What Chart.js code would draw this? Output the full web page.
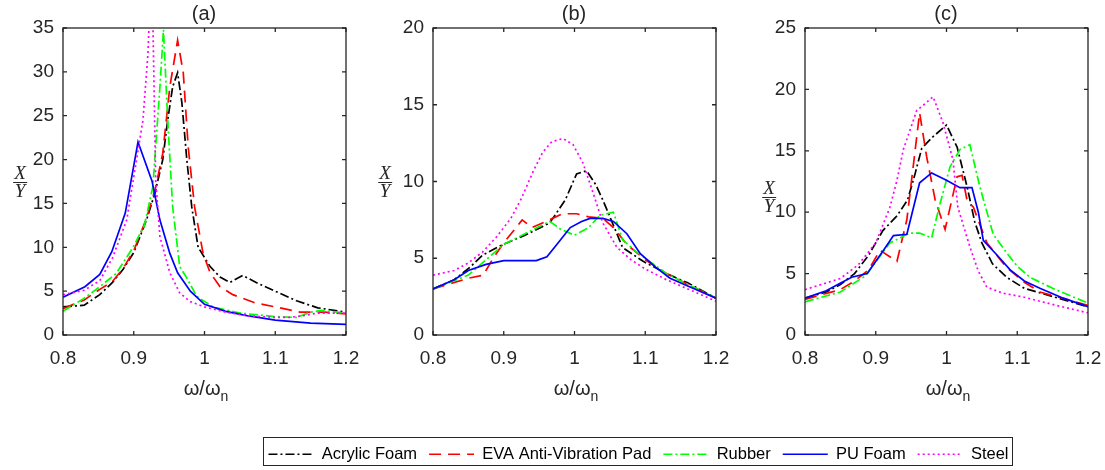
<!DOCTYPE html>
<html>
<head>
<meta charset="utf-8">
<script src="https://cdn.jsdelivr.net/npm/chart.js@4.4.0/dist/chart.umd.min.js"></script>
<style>
  body { margin: 0; background: #fff; width: 1105px; height: 470px; position: relative; overflow: hidden;
         font-family: 'Liberation Sans', Arial, sans-serif; color: #262626; }
  .panel { position: absolute; top: 0; height: 420px; }
  .txt { position: absolute; transform: translate(-50%, -50%); white-space: nowrap; font-size: 20px; }
  .txt sub { font-size: 14px; vertical-align: -6px; }
  .frac { position: absolute; transform: translate(-50%, -50%); font-family: 'Liberation Serif', serif;
          font-style: italic; font-size: 19px; text-align: center; line-height: 16px; }
  .frac span { display: block; padding: 0 1px; }
  .frac .num { border-bottom: 1px solid #262626; padding-bottom: 1px; }
  #legendBox { position: absolute; left: 263px; top: 437px; width: 748px; height: 27px; border: 1.5px solid #262626; }
  #legendWrap { position: absolute; left: 213px; top: 434px; width: 851px; height: 100px; }
</style>
</head>
<body>
<div class="panel" style="left:0;width:370px"><canvas id="panelA"></canvas></div>
<div class="panel" style="left:370px;width:370px"><canvas id="panelB"></canvas></div>
<div class="panel" style="left:740px;width:365px"><canvas id="panelC"></canvas></div>

<div class="txt" style="left:204px;top:13px">(a)</div>
<div class="txt" style="left:574px;top:13px">(b)</div>
<div class="txt" style="left:946px;top:13px">(c)</div>
<div class="txt" style="left:206px;top:390px">&omega;/&omega;<sub>n</sub></div>
<div class="txt" style="left:576px;top:390px">&omega;/&omega;<sub>n</sub></div>
<div class="txt" style="left:948px;top:390px">&omega;/&omega;<sub>n</sub></div>
<div class="frac" style="left:20px;top:182px"><span class="num">X</span><span>Y</span></div>
<div class="frac" style="left:385px;top:182px"><span class="num">X</span><span>Y</span></div>
<div class="frac" style="left:769px;top:197px"><span class="num">X</span><span>Y</span></div>

<div id="legendBox"></div>
<div id="legendWrap"><canvas id="legend"></canvas></div>

<script>
// Axis ticks
const xTicks = [0.8, 0.9, 1.0, 1.1, 1.2];
const yTicksA = [0, 5, 10, 15, 20, 25, 30, 35];
const yTicksB = [0, 5, 10, 15, 20];
const yTicksC = [0, 5, 10, 15, 20, 25];

const materials = ['Acrylic Foam', 'EVA Anti-Vibration Pad', 'Rubber', 'PU Foam', 'Steel'];

// Panel (a)
const aAcrylicW = [0.8, 0.83, 0.852, 0.87, 0.885, 0.9, 0.918, 0.93, 0.941, 0.948, 0.955, 0.962, 0.968, 0.975, 0.982, 0.991, 1.008, 1.022, 1.036, 1.054, 1.075, 1.1, 1.13, 1.16, 1.2];
const aAcrylicR = [3.2, 3.4, 4.6, 6.0, 7.5, 9.4, 13.1, 16.2, 20.0, 24.5, 28.3, 29.9, 26.5, 20.0, 14.6, 10.0, 7.8, 6.6, 6.0, 6.8, 5.9, 5.0, 3.9, 3.1, 2.6];
const aEvaW = [0.8, 0.83, 0.852, 0.87, 0.885, 0.9, 0.918, 0.93, 0.941, 0.951, 0.962, 0.97, 0.977, 0.986, 0.998, 1.008, 1.022, 1.04, 1.07, 1.1, 1.135, 1.17, 1.2];
const aEvaR = [3.0, 4.0, 5.2, 6.1, 7.6, 9.6, 13.3, 16.5, 20.7, 28.3, 33.6, 29.9, 21.4, 14.6, 9.3, 7.1, 5.5, 4.6, 3.7, 3.2, 2.6, 2.6, 2.4];
const aRubberW = [0.8, 0.83, 0.852, 0.875, 0.899, 0.915, 0.927, 0.937, 0.942, 0.948, 0.955, 0.965, 0.975, 0.989, 1.012, 1.05, 1.1, 1.13, 1.15, 1.165, 1.2];
const aRubberR = [2.7, 4.2, 5.5, 7.0, 10.0, 12.5, 16.9, 28.3, 34.8, 24.5, 14.6, 7.8, 6.5, 4.4, 3.2, 2.5, 2.1, 2.0, 2.6, 2.8, 2.5];
const aPuW = [0.8, 0.831, 0.852, 0.869, 0.888, 0.906, 0.926, 0.937, 0.951, 0.962, 0.98, 1.0, 1.03, 1.06, 1.1, 1.15, 1.2];
const aPuR = [4.3, 5.5, 6.9, 9.5, 13.9, 22.0, 17.5, 13.1, 9.3, 7.1, 5.0, 3.5, 2.7, 2.2, 1.7, 1.35, 1.2];
const aSteelW = [0.8, 0.83, 0.852, 0.87, 0.89, 0.904, 0.913, 0.92, 0.924, 0.927, 0.931, 0.937, 0.951, 0.965, 0.98, 1.0, 1.03, 1.06, 1.1, 1.12, 1.14, 1.16, 1.2];
const aSteelR = [4.6, 5.1, 6.2, 8.8, 13.1, 20.0, 24.5, 32.0, 40.0, 36.0, 17.7, 11.2, 7.1, 4.8, 3.8, 3.2, 2.6, 2.2, 2.0, 2.0, 2.2, 2.5, 2.5];

// Panel (b)
const bAcrylicW = [0.8, 0.83, 0.852, 0.87, 0.899, 0.93, 0.965, 0.987, 1.003, 1.017, 1.03, 1.04, 1.05, 1.068, 1.097, 1.13, 1.16, 1.2];
const bAcrylicR = [3.0, 3.6, 4.4, 5.2, 5.9, 6.5, 7.3, 8.8, 10.5, 10.7, 9.8, 8.8, 7.7, 5.7, 4.8, 4.0, 3.4, 2.4];
const bEvaW = [0.8, 0.85, 0.871, 0.885, 0.9, 0.926, 0.94, 0.96, 0.983, 1.003, 1.02, 1.04, 1.055, 1.074, 1.1, 1.13, 1.16, 1.2];
const bEvaR = [3.0, 3.7, 3.9, 5.0, 6.0, 7.5, 7.0, 7.4, 7.9, 7.9, 7.7, 7.6, 7.0, 5.9, 4.9, 4.0, 3.3, 2.4];
const bRubberW = [0.8, 0.85, 0.9, 0.93, 0.965, 0.98, 1.0, 1.02, 1.036, 1.055, 1.068, 1.085, 1.1, 1.13, 1.16, 1.2];
const bRubberR = [3.0, 3.9, 5.9, 6.6, 7.4, 6.9, 6.5, 7.0, 7.8, 8.0, 6.2, 5.5, 5.0, 4.0, 3.3, 2.4];
const bPuW = [0.8, 0.83, 0.85, 0.875, 0.9, 0.925, 0.946, 0.961, 0.975, 0.994, 1.01, 1.022, 1.04, 1.055, 1.074, 1.093, 1.115, 1.135, 1.165, 1.2];
const bPuR = [3.0, 3.6, 4.2, 4.6, 4.85, 4.85, 4.85, 5.1, 5.9, 7.0, 7.4, 7.6, 7.6, 7.4, 6.6, 5.3, 4.4, 3.7, 3.1, 2.4];
const bSteelW = [0.8, 0.83, 0.85, 0.87, 0.89, 0.91, 0.925, 0.941, 0.955, 0.968, 0.984, 0.998, 1.012, 1.026, 1.04, 1.06, 1.08, 1.1, 1.13, 1.16, 1.2];
const bSteelR = [3.9, 4.2, 4.7, 5.4, 6.4, 7.6, 8.9, 10.6, 11.9, 12.6, 12.8, 12.4, 11.2, 9.3, 7.3, 5.7, 4.9, 4.3, 3.6, 3.0, 2.2];

// Panel (c)
const cAcrylicW = [0.8, 0.83, 0.85, 0.87, 0.89, 0.91, 0.93, 0.945, 0.955, 0.965, 0.98, 1.0, 1.015, 1.029, 1.04, 1.05, 1.065, 1.085, 1.11, 1.14, 1.17, 1.2];
const cAcrylicR = [3.0, 3.5, 4.1, 5.0, 6.5, 8.5, 9.7, 11.0, 13.0, 15.2, 16.1, 17.1, 15.3, 12.1, 9.2, 7.5, 5.8, 4.7, 3.8, 3.3, 2.8, 2.3];
const cEvaW = [0.8, 0.85, 0.87, 0.89, 0.906, 0.93, 0.944, 0.962, 0.972, 0.984, 0.998, 1.015, 1.022, 1.029, 1.038, 1.057, 1.085, 1.11, 1.132, 1.17, 1.2];
const cEvaR = [2.9, 3.7, 4.4, 5.3, 6.9, 6.0, 9.4, 18.1, 14.5, 11.0, 8.6, 12.9, 13.0, 11.0, 10.4, 7.5, 5.5, 4.3, 3.5, 2.9, 2.4];
const cRubberW = [0.8, 0.85, 0.885, 0.92, 0.948, 0.962, 0.979, 0.99, 1.005, 1.019, 1.033, 1.047, 1.066, 1.085, 1.1, 1.118, 1.15, 1.179, 1.2];
const cRubberR = [2.7, 3.5, 4.8, 7.5, 8.3, 8.3, 7.9, 10.5, 13.7, 15.1, 15.5, 12.1, 8.2, 6.7, 5.6, 4.7, 3.8, 3.1, 2.6];
const cPuW = [0.8, 0.83, 0.849, 0.866, 0.888, 0.911, 0.925, 0.944, 0.962, 0.979, 1.0, 1.019, 1.036, 1.045, 1.052, 1.07, 1.09, 1.11, 1.132, 1.165, 1.2];
const cPuR = [3.0, 3.6, 4.2, 4.7, 5.0, 6.9, 8.1, 8.2, 12.4, 13.2, 12.6, 12.0, 12.0, 10.0, 7.7, 6.6, 5.3, 4.4, 3.8, 3.0, 2.3];
const cSteelW = [0.8, 0.85, 0.875, 0.9, 0.92, 0.93, 0.939, 0.958, 0.965, 0.981, 0.995, 1.009, 1.016, 1.033, 1.045, 1.057, 1.08, 1.108, 1.156, 1.2];
const cSteelR = [3.7, 4.6, 5.7, 7.5, 10.4, 12.6, 15.1, 18.3, 18.6, 19.4, 17.3, 14.3, 10.4, 7.2, 5.2, 3.9, 3.4, 3.1, 2.4, 1.8];

// Line styles (MATLAB -. -- -. - :)
const styles = [
  { color: '#000000', dash: [9, 3, 2, 3] },
  { color: '#ff0000', dash: [12, 7] },
  { color: '#00ff00', dash: [9, 3, 2, 3] },
  { color: '#0000ff', dash: [] },
  { color: '#ff00ff', dash: [2, 3] },
];

const FONT = "'Liberation Sans', Arial, sans-serif";
const AXIS = '#262626';

const pts = (ws, rs) => ws.map((w, i) => ({ x: w, y: rs[i] }));

// MATLAB style box with inward ticks
const boxPlugin = {
  id: 'matlabBox',
  afterDraw(c) {
    const { ctx, chartArea: a, scales: { x, y } } = c;
    ctx.save();
    ctx.strokeStyle = AXIS;
    ctx.lineWidth = 1.3;
    ctx.setLineDash([]);
    ctx.strokeRect(a.left, a.top, a.right - a.left, a.bottom - a.top);
    ctx.beginPath();
    x.ticks.forEach((t) => {
      const px = x.getPixelForValue(t.value);
      ctx.moveTo(px, a.bottom); ctx.lineTo(px, a.bottom - 4);
      ctx.moveTo(px, a.top); ctx.lineTo(px, a.top + 4);
    });
    y.ticks.forEach((t) => {
      const py = y.getPixelForValue(t.value);
      ctx.moveTo(a.left, py); ctx.lineTo(a.left + 4, py);
      ctx.moveTo(a.right, py); ctx.lineTo(a.right - 4, py);
    });
    ctx.stroke();
    ctx.restore();
  },
};

const makePanel = (id, series, yTicks, yWidth, rightPad) => {
  const ctx = document.getElementById(id);
  return new Chart(ctx, {
    type: 'line',
    data: {
      datasets: series.map(([ws, rs], i) => ({
        label: materials[i],
        data: pts(ws, rs),
        borderColor: styles[i].color,
        borderDash: styles[i].dash,
        borderWidth: 1.7,
        tension: 0,
        pointRadius: 0,
        fill: false,
        order: 5 - i,
      })),
    },
    options: {
      animation: false,
      events: [],
      maintainAspectRatio: false,
      layout: { padding: { top: 28, right: rightPad, left: 0, bottom: 0 } },
      scales: {
        x: {
          type: 'linear',
          min: xTicks[0],
          max: xTicks[xTicks.length - 1],
          afterBuildTicks: (s) => { s.ticks = xTicks.map((v) => ({ value: v })); },
          afterFit: (s) => { s.height = 85; s.paddingLeft = 0; s.paddingRight = 0; },
          grid: { display: false, drawTicks: false },
          border: { display: false },
          ticks: {
            padding: 12,
            color: AXIS,
            font: { family: FONT, size: 19 },
            maxRotation: 0,
            callback: (v) => String(+v.toFixed(2)),
          },
        },
        y: {
          type: 'linear',
          min: yTicks[0],
          max: yTicks[yTicks.length - 1],
          afterBuildTicks: (s) => { s.ticks = yTicks.map((v) => ({ value: v })); },
          afterFit: (s) => { s.width = yWidth; s.paddingTop = 0; s.paddingBottom = 0; },
          grid: { display: false, drawTicks: false },
          border: { display: false },
          ticks: {
            padding: 9,
            color: AXIS,
            font: { family: FONT, size: 19 },
          },
        },
      },
      plugins: {
        legend: { display: false },
        tooltip: { enabled: false },
      },
    },
    plugins: [boxPlugin],
  });
};

makePanel('panelA', [[aAcrylicW, aAcrylicR], [aEvaW, aEvaR], [aRubberW, aRubberR], [aPuW, aPuR], [aSteelW, aSteelR]], yTicksA, 63, 24);
makePanel('panelB', [[bAcrylicW, bAcrylicR], [bEvaW, bEvaR], [bRubberW, bRubberR], [bPuW, bPuR], [bSteelW, bSteelR]], yTicksB, 63, 24);
makePanel('panelC', [[cAcrylicW, cAcrylicR], [cEvaW, cEvaR], [cRubberW, cRubberR], [cPuW, cPuR], [cSteelW, cSteelR]], yTicksC, 65, 17);

// Shared legend below the panels
// eslint-disable-next-line no-new
new Chart(document.getElementById('legend'), {
  type: 'line',
  data: {
    datasets: materials.map((m, i) => ({
      label: m, data: [], borderColor: styles[i].color, borderDash: styles[i].dash, borderWidth: 1.7,
    })),
  },
  options: {
    animation: false,
    events: [],
    maintainAspectRatio: false,
    scales: { x: { display: false }, y: { display: false } },
    plugins: {
      tooltip: { enabled: false },
      legend: {
        display: true,
        position: 'top',
        maxHeight: 60,
        labels: {
          usePointStyle: true,
          pointStyleWidth: 45,
          padding: 12,
          color: '#111',
          font: { family: FONT, size: 16.5 },
          generateLabels: (c) => c.data.datasets.map((d, i) => ({
            text: d.label,
            datasetIndex: i,
            pointStyle: 'line',
            strokeStyle: d.borderColor,
            fillStyle: d.borderColor,
            lineDash: d.borderDash,
            lineWidth: 1.7,
            hidden: false,
          })),
        },
      },
    },
  },
});
</script>
</body>
</html>
